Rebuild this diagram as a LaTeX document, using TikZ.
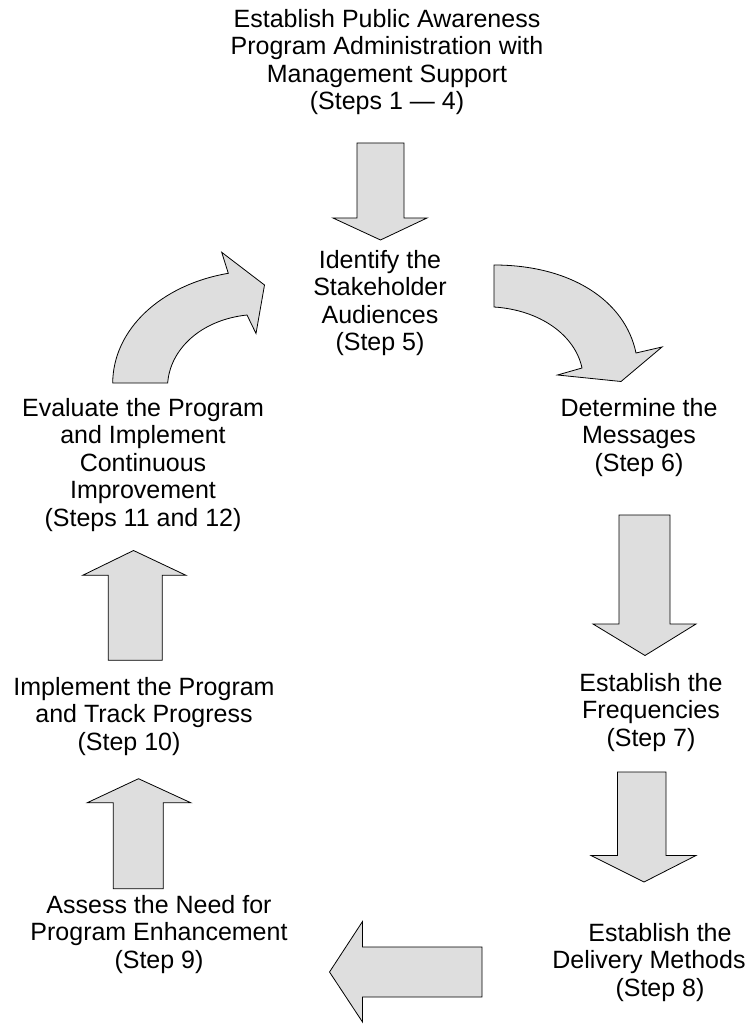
\documentclass[tikz,border=0pt]{standalone}
\usepackage{fontspec}
\setmainfont{Liberation Sans}
\begin{document}
\begin{tikzpicture}[x=1pt,y=-1pt,
  lbl/.style={anchor=north,inner sep=0pt,align=center,font=\fontsize{25}{27.5}\selectfont},
  blockarrow/.style={draw=black,line width=0.8pt,fill=black!13,line join=miter}]
\useasboundingbox (0,0) rectangle (749,1024);
% texts
\node[lbl] (t1) at (387,9) {Establish Public Awareness\\Program Administration with\\Management Support\\(Steps 1 --- 4)};
\node[lbl] (t5) at (380,250) {Identify the\\Stakeholder\\Audiences\\(Step 5)};
\node[lbl] (t6) at (639,398) {Determine the\\Messages\\(Step 6)};
\node[lbl] (t7) at (651,673) {Establish the\\Frequencies\\(Step 7)};
\node[lbl] (t8) at (660,923) {Establish the\\Delivery Methods\rule{22pt}{0pt}\\(Step 8)};
\node[lbl] (t9) at (159,895) {Assess the Need for\\Program Enhancement\\(Step 9)};
\node[lbl] (t10) at (144,677) {Implement the Program\\and Track Progress\\(Step 10)\rule{30pt}{0pt}};
\node[lbl] (t11) at (143,398) {Evaluate the Program\\and Implement\\Continuous\\Improvement\\(Steps 11 and 12)};
% block arrows
\draw[blockarrow] (357,143) -- (404,143) -- (404,218) -- (427,218) -- (380.5,240) -- (333,218) -- (357,218) -- cycle;
\draw[blockarrow] (494,265) .. controls (570,265) and (625,300) .. (636,353) -- (662,347) -- (621,381.5) -- (557.5,375) -- (582,368) .. controls (575,335) and (540,310) .. (494,307) -- cycle;
\draw[blockarrow] (619,515) -- (670,515) -- (670,624) -- (696,624) -- (645,655.5) -- (593,624) -- (619,624) -- cycle;
\draw[blockarrow] (617.5,772) -- (666,772) -- (666,855.5) -- (696,855.5) -- (644,882) -- (591,855.5) -- (617.5,855.5) -- cycle;
\draw[blockarrow] (482,947) -- (482,997) -- (362.5,997) -- (362.5,1022) -- (329.5,972) -- (362.5,921.5) -- (362.5,947) -- cycle;
\draw[blockarrow] (113.3,888.7) -- (163.3,888.7) -- (163.3,802.7) -- (190.7,802.7) -- (138.5,778.7) -- (87.3,802.7) -- (113.3,802.7) -- cycle;
\draw[blockarrow] (108.3,660.3) -- (162.3,660.3) -- (162.3,575.3) -- (186,575.3) -- (133.5,550.5) -- (82.7,575.3) -- (108.3,575.3) -- cycle;
\draw[blockarrow] (112.7,383) .. controls (113,330) and (160,285) .. (228.3,273.3) -- (221.7,252.3) -- (264.5,285) -- (256,333.5) -- (247,315) .. controls (200,320) and (170,350) .. (167.7,383) -- cycle;
\end{tikzpicture}
\end{document}
